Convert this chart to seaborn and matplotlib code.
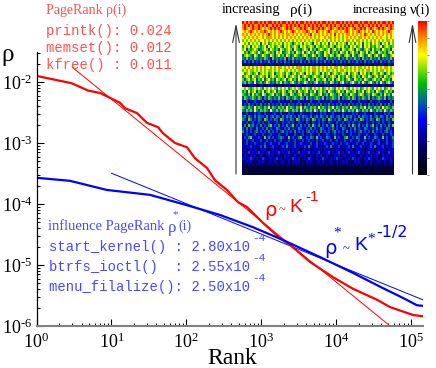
import numpy as np
import pandas as pd
import matplotlib
matplotlib.use("Agg")
import matplotlib.pyplot as plt
from matplotlib.colors import LinearSegmentedColormap
from matplotlib.ticker import LogLocator, NullFormatter
import seaborn as sns

# curves as log10 values
red_log_rank = [0, .47, .688, .848, .981, 1.115, 1.182, 1.342, 1.475, 1.622, 1.689, 1.849, 2.009, 2.116,
                2.276, 2.383, 2.543, 2.69, 2.81, 3.024, 3.251, 3.385, 3.652, 3.959, 4.226, 4.546, 4.72, 5.027, 5.16]
red_log_rho = [-1.90, -2.02, -2.14, -2.18, -2.26, -2.34, -2.43, -2.51, -2.67, -2.74, -2.84, -3.00, -3.07, -3.25,
               -3.41, -3.61, -3.77, -3.97, -4.05, -4.31, -4.56, -4.67, -4.95, -5.20, -5.39, -5.57, -5.69, -5.82, -5.84]
blue_log_rank = [0, .447, .941, 1.515, 2.009, 2.45, 2.89, 3.29, 3.785, 4.226, 4.626, 4.76, 4.893, 5.08, 5.16]
blue_log_rho = [-3.57, -3.62, -3.77, -3.85, -4.02, -4.18, -4.38, -4.59, -4.87, -5.13, -5.38, -5.46, -5.54, -5.66, -5.67]

# fitted power laws
red_fit_rank = [2.98, 5.26e4]
red_fit_rho = [1.76e-2, 1e-6]
blue_fit_rank = [10, 1.45e5]
blue_fit_rho = [3.2e-4, 2.68e-6]

# density map, one digit per cell, 0 = black ... 9 = red
density_rows = [
    "9898989989898998989899898989899898989898998989899898989899898998989898998989",
    "8989898898989889898988989898988989898989889898988989898988989889898989889898",
    "8987898898787898989878989878898987898898987898789898987898898978987898987898",
    "7878987878898787878987878987878898787987878987887878987878987878798787878987",
    "8787878787878987878787887878787878978787878787978787887878787987878787878787",
    "7876787877878687878767878787678787876787787867878767878787687878767878776787",
    "6767876767767876767678767676787676767867676787676767867676876767678767676876",
    "7675767674767567676757676467675767647675767476757676476757674767576764767576",
    "5767476765674767567647675676476756764765676576467675647675674767565767467656",
    "6746567645676476564765676476546764756467656746756476567647654676475664765647",
    "7564676575467656476745675647657467564765476746564765746756476574675476564675",
    "4676547645765476467564764576546764576465476576467546764754676457646754765467",
    "5464546545465436454546354645454365454645436454546354645464536454645463545464",
    "3534353435343534253435342534353425343534353425343534253435342534353425343534",
    "2323132323213232323123232321323232132323213232132323213232321323213232321323",
    "7678767678767767678676787676867676786767876767867678676767867678767676786767",
    "6767867676767687676778676767867676768767678676767867676787676786767678676767",
    "7567656746767567466765764675676476756764756746765676475676476756467657646756",
    "5676476567657467656764756765746765467656746567647565764675647657646756476567",
    "6467567465746756476567467564765647564765674657467564675476564765467564765647",
    "5646547456457645465746546754645764546745465476454674546754647546754647546754",
    "2312323123212323123213232123231232123231232312321323123213231232132312321323",
    "7676567676576767657676756767657676576767567676576767657676756767657676756767",
    "5647567465746756746576467564765674657467564765467564765674657467564765467564",
    "6546475654764567465476547645674654765467456476546745647654676456476546475647",
    "4654565465354654546453654565465364545654635456546354564653546546354565463545",
    "3242324232423142324232314232423231423242323142324232314232423231423242323142",
    "3435343435243534343524353434352435343435243534343524353434352435343435243534",
    "6546547565465746546564756546574654656475654657465465647565465746546564756546",
    "5465647546565475464656754656475465647546564754656475465647546564754656475465",
    "3242324343242323432423243423243232432324342324323243232434232432324323243423",
    "4535425354435245354253545342535443524535425354345253545342535443524535425354",
    "5426534354265343542653435426534354265343542653435426534354265343542653435426",
    "3243243342432433243243342432433243243342432433243243342432433243243342432433",
    "3526453435243563435243534624353425364352435346243534253643524353462435342536",
    "4352432532435243254324352432543243524325432435243254324352432543243524325432",
    "5343424534342534342453434253434245343425343424534342534342453434253434245343",
    "3243234232432342324323423243234232432342324323423243234232432342324323423243",
    "2435632343263534234543263423563243542634235432634235632435423634235432634235",
    "3242342324234232423423242342324234232423423242342324234232423423242342324234",
    "2342324323242342324323423242343232423423243234232423432324234232432342324234",
    "3233423234253234232342532342323425323423234253234232342532342323425323423234",
    "2312323213232123231232321323212323123232132321232312323213232123231232321323",
    "3234232342323423234232342323423234232342323423234232342323423234232342323423",
    "2321323123212323123213231232132312321323123212323123213231232132312321323123",
    "3223432312432232342312232432312324322312432232342312232432312324322312432232",
    "2132312132321231321232131232312132321231321232131232312132321231321232131232",
    "1212121221212212122121221212212121221212212122121221212212121221212212122121",
    "1111111111111111111111111111111111111111111111111111111111111111111111111111",
    "1111111111111111111111111111111111111111111111111111111111111111111111111111",
    "1111111111111111111111111111111111111111111111111111111111111111111111111111",
]

tick_exponents = [0, 1, 2, 3, 4, 5]
neg_exponents = [6, 5, 4, 3, 2]

red = "#ff0000"
blue = "#0000ff"
red_text = "#ff5050"
blue_text = "#4848ff"

sns.set_theme(style="ticks")
plt.rcParams.update({
    "font.family": ["Liberation Serif", "DejaVu Sans"],
    "mathtext.fontset": "custom",
    "mathtext.rm": "Liberation Serif",
    "mathtext.it": "Liberation Serif",
    "mathtext.default": "regular",
    "axes.edgecolor": "black",
    "text.color": "black",
    "xtick.color": "black",
    "ytick.color": "black",
})

W, H = 436, 368
fig = plt.figure(figsize=(W / 100, H / 100), dpi=100)
ax = fig.add_axes([36.5 / W, 1 - 326 / H, (423 - 36.5) / W, 274 / H])

red_df = pd.DataFrame({"rank": 10.0 ** np.array(red_log_rank), "rho": 10.0 ** np.array(red_log_rho)})
blue_df = pd.DataFrame({"rank": 10.0 ** np.array(blue_log_rank), "rho": 10.0 ** np.array(blue_log_rho)})
red_fit = pd.DataFrame({"rank": red_fit_rank, "rho": red_fit_rho})
blue_fit = pd.DataFrame({"rank": blue_fit_rank, "rho": blue_fit_rho})

sns.lineplot(data=red_fit, x="rank", y="rho", ax=ax, color=red, lw=0.7, estimator=None, sort=False)
sns.lineplot(data=blue_fit, x="rank", y="rho", ax=ax, color=blue, lw=0.7, estimator=None, sort=False)
sns.lineplot(data=red_df, x="rank", y="rho", ax=ax, color=red, lw=1.6, estimator=None, sort=False)
sns.lineplot(data=blue_df, x="rank", y="rho", ax=ax, color=blue, lw=1.6, estimator=None, sort=False)

ax.set_xscale("log")
ax.set_yscale("log")
ax.set_xlim(1, 10 ** 5.16)
ax.set_ylim(1e-6, 10 ** -1.508)
ax.set_xticks([10.0 ** e for e in tick_exponents])
ax.set_xticklabels([f"$10^{{{e}}}$" for e in tick_exponents])
ax.set_yticks([10.0 ** -e for e in neg_exponents])
ax.set_yticklabels([f"$10^{{\\text{{-{e}}}}}$" for e in neg_exponents])
ax.xaxis.set_minor_locator(LogLocator(base=10, subs=range(2, 10), numticks=12))
ax.yaxis.set_minor_locator(LogLocator(base=10, subs=range(2, 10), numticks=12))
ax.xaxis.set_minor_formatter(NullFormatter())
ax.yaxis.set_minor_formatter(NullFormatter())
ax.tick_params(which="major", direction="in", length=5, width=0.8, labelsize=13, pad=3)
ax.tick_params(axis="x", which="major", pad=5)
ax.tick_params(which="minor", direction="in", length=2.5, width=0.7)
ax.set_xlabel("")
ax.set_ylabel("")
sns.despine(ax=ax)
ax.spines["left"].set_linewidth(0.9)
ax.spines["bottom"].set_linewidth(1.5)
ax.spines["bottom"].set_color("#808080")
ax.patch.set_alpha(0)


def label(px, py, s, **kw):
    # place text by pixel position of the reference picture
    fig.text(px / W, 1 - py / H, s, va="center", **kw)


mono = "Liberation Mono"
label(46, 10, "PageRank ρ(i)", color=red_text, fontsize=10)
label(46, 31, "printk(): 0.024", color=red_text, fontsize=10, family=mono)
label(46, 48, "memset(): 0.012", color=red_text, fontsize=10, family=mono)
label(46, 65, "kfree() : 0.011", color=red_text, fontsize=10, family=mono)

label(48, 226, "influence PageRank", color=blue_text, fontsize=10.5)
label(168, 228, "ρ", color=blue_text, fontsize=12)
label(172, 215, "*", color=blue_text, fontsize=8)
label(178, 226, "(i)", color=blue_text, fontsize=10)
for py, name, value in [(247, "start_kernel() : ", "2.80"),
                        (267, "btrfs_ioctl()  : ", "2.55"),
                        (287, "menu_filalize(): ", "2.50")]:
    label(49, py, name + value + "x10", color=blue_text, fontsize=10, family=mono)
    label(252, py - 9, "-4", color=blue_text, fontsize=8, family=mono)

label(1, 55, "ρ", fontsize=18)
label(207, 359, "Rank", fontsize=17)

sans = "DejaVu Sans"
label(264, 210, "ρ", color=red, fontsize=14, family=sans)
label(279, 210, "~", color=red, fontsize=9)
label(289, 208, "K", color=red, fontsize=14, family="Liberation Sans")
label(305, 197, "-1", color=red, fontsize=11, family="Liberation Sans")

label(324, 248, "ρ", color=blue, fontsize=14, family=sans)
label(333, 233, "*", color=blue, fontsize=11)
label(343, 249, "~", color=blue, fontsize=9)
label(354, 246, "K", color=blue, fontsize=14, family="Liberation Sans")
label(367, 239, "*", color=blue, fontsize=11)
label(376, 233, "-1/2", color=blue, fontsize=11.5, family=sans)

label(222, 10, "increasing", fontsize=10.3)
label(290, 10, "ρ(i)", fontsize=11)
label(353, 10, "increasing", fontsize=9.5)
label(410, 10, "ν(i)", fontsize=10.5)

# density map and its colour bar
n_cols = min(len(row) for row in density_rows)
density = pd.DataFrame([[int(c) for c in row[:n_cols]] for row in density_rows])
stops = [(0.0, "#000000"), (0.15, "#000050"), (0.36, "#0000ff"), (0.47, "#0060a0"), (0.6, "#00c000"),
         (0.78, "#ffff00"), (0.9, "#ff8000"), (1.0, "#ff0000")]
cmap = LinearSegmentedColormap.from_list("nu", stops)
ax_map = fig.add_axes([242 / W, 1 - 175 / H, 152 / W, 154 / H])
ax_bar = fig.add_axes([418 / W, 1 - 175 / H, 9 / W, 154 / H])
sns.heatmap(density, ax=ax_map, cmap=cmap, vmin=0, vmax=9, cbar=True, cbar_ax=ax_bar,
            xticklabels=False, yticklabels=False, rasterized=True)
ax_map.set_xlabel("")
ax_map.set_ylabel("")
ax_bar.tick_params(length=1.5, width=0.5, labelright=False, pad=0, color="#555555")
ax_bar.set_yticks(range(0, 10))

# arrows next to the map and the bar
overlay = fig.add_axes([0, 0, 1, 1])
overlay.set_xlim(0, W)
overlay.set_ylim(H, 0)
overlay.axis("off")
for px in [236, 412.5]:
    overlay.annotate("", xy=(px, 23), xytext=(px, 174),
                     arrowprops=dict(arrowstyle="->,head_length=1.0,head_width=0.2", color="#333333", lw=0.8,
                                     shrinkA=0, shrinkB=0))

fig.savefig("out.png", dpi=100)
